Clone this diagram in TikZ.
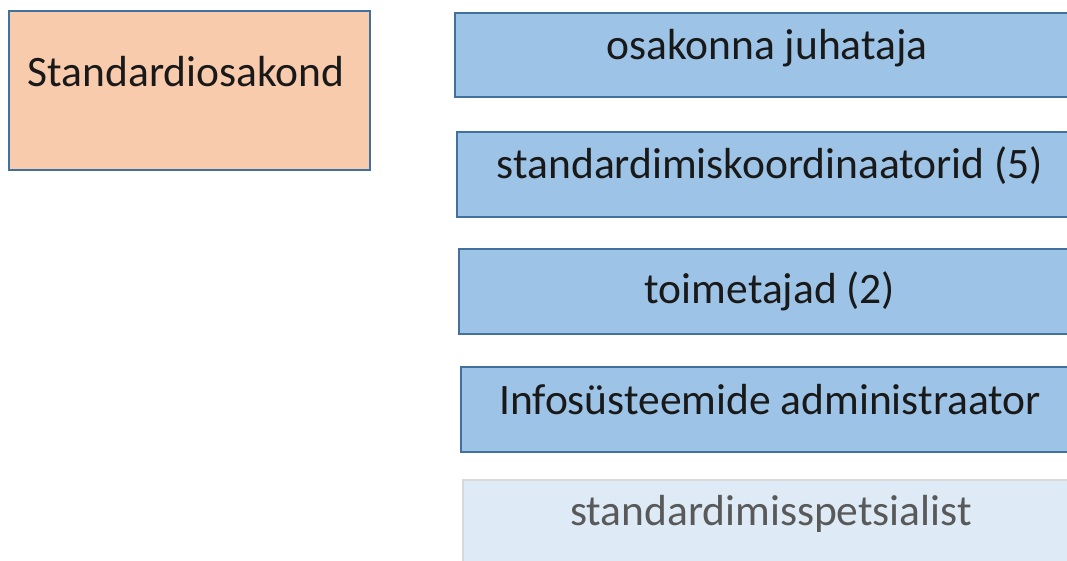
\documentclass[tikz,border=0pt]{standalone}
\usepackage{fontspec}
\setmainfont{Carlito}
\definecolor{peach}{HTML}{F8CBAD}
\definecolor{bluefill}{HTML}{9DC3E6}
\definecolor{blueline}{HTML}{41719C}
\definecolor{palefill}{HTML}{DEEBF7}
\definecolor{paleline}{HTML}{D9D9D9}
\definecolor{graytext}{HTML}{595959}
\begin{document}
\begin{tikzpicture}[x=1pt,y=-1pt,
  boxbase/.style={rectangle,line width=1.6pt,inner sep=0pt,anchor=north west},
  orgbox/.style={boxbase,draw=blueline,fill=peach},
  rolebox/.style={boxbase,draw=blueline,fill=bluefill},
  palebox/.style={boxbase,draw=paleline,fill=palefill},
  lbl/.style={anchor=base,inner sep=0pt,font=\fontsize{43.5}{52}\selectfont,text=black!90},
  palelbl/.style={lbl,text=graytext}]
\useasboundingbox (0,0) rectangle (1067,561);
\clip (0,0) rectangle (1067,561);
\node[orgbox,minimum width=361pt,minimum height=159pt] (org) at (8,10) {};
\node[lbl] (orgt) at (186,87) {Standardiosakond};
\node[rolebox,minimum width=630pt,minimum height=84pt] (r1) at (454,12) {};
\node[lbl] (r1t) at (767,60) {osakonna juhataja};
\node[rolebox,minimum width=630pt,minimum height=85pt] (r2) at (456,131) {};
\node[lbl] (r2t) at (770,179) {standardimiskoordinaatorid (5)};
\node[rolebox,minimum width=630pt,minimum height=85pt] (r3) at (458,248) {};
\node[lbl] (r3t) at (770,303) {toimetajad (2)};
\node[rolebox,minimum width=630pt,minimum height=85pt] (r4) at (460,366) {};
\node[lbl] (r4t) at (770,414) {Infosüsteemide administraator};
\node[palebox,minimum width=630pt,minimum height=100pt] (r5) at (462,479) {};
\node[palelbl] (r5t) at (771,525) {standardimisspetsialist};
\end{tikzpicture}
\end{document}
